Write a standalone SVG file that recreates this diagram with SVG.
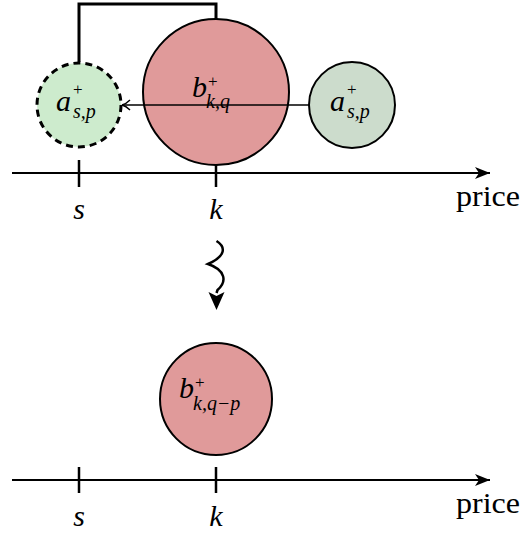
<svg xmlns="http://www.w3.org/2000/svg" width="522" height="533" viewBox="0 0 522 533">
<defs>
<marker id="ax" markerUnits="userSpaceOnUse" markerWidth="18" markerHeight="14" refX="16" refY="7" orient="auto">
<path d="M1,1 L16,7 L1,13 L5,7 Z" fill="#000"/>
</marker>
<marker id="op" markerUnits="userSpaceOnUse" markerWidth="12" markerHeight="14" refX="10" refY="7" orient="auto">
<path d="M2,2 Q6,6 10,7 Q6,8 2,12" fill="none" stroke="#000" stroke-width="1.4"/>
</marker>
</defs>
<style>
.m{font-family:"Liberation Serif","DejaVu Serif",serif;font-style:italic;fill:#000}
.r{font-family:"Liberation Serif","DejaVu Serif",serif;font-style:normal;fill:#000}
.axis{stroke:#000;stroke-width:2;fill:none}
.tick{stroke:#000;stroke-width:2.5}
.node{stroke:#000;stroke-width:2}
</style>
<rect width="522" height="533" fill="#fff"/>
<g id="connectors">
<line class="axis" x1="12" y1="173" x2="490" y2="173" marker-end="url(#ax)"/>
<line class="tick" x1="79" y1="160" x2="79" y2="187"/>
<line class="tick" x1="216" y1="160" x2="216" y2="187"/>
<path d="M79,62 V4 H216 V20" fill="none" stroke="#000" stroke-width="3"/>
<path d="M216.5,241 C226,247 226,256 208,264 C226,270 227,282 217.5,290 L216.5,293" fill="none" stroke="#000" stroke-width="2.5"/>
<path d="M216.5,310 L208.5,292 L216.5,296 L224.5,292 Z" fill="#000"/>
<line class="axis" x1="12" y1="480" x2="490" y2="480" marker-end="url(#ax)"/>
<line class="tick" x1="79" y1="467" x2="79" y2="493"/>
<line class="tick" x1="216" y1="467" x2="216" y2="493"/>
</g>
<g id="node-a-dashed">
<circle cx="79" cy="105" r="42" fill="#cdebcd" stroke="#000" stroke-width="3" stroke-dasharray="7,5"/>
<text class="m" x="56" y="111" font-size="30">a</text>
<text class="r" x="73" y="95" font-size="17">+</text>
<text class="m" x="73" y="118" font-size="20">s,p</text>
</g>
<g id="node-b">
<circle class="node" cx="216" cy="92" r="73" fill="#e09a9a"/>
<text class="m" x="192" y="97" font-size="30">b</text>
<text class="r" x="208" y="87" font-size="17">+</text>
<text class="m" x="206" y="108" font-size="20">k,q</text>
</g>
<g id="node-a-right">
<circle class="node" cx="352" cy="105" r="43" fill="#ccdccc"/>
<text class="m" x="330" y="111" font-size="30">a</text>
<text class="r" x="347" y="95" font-size="17">+</text>
<text class="m" x="347" y="118" font-size="20">s,p</text>
</g>
<g id="arrow-link">
<line x1="309" y1="105" x2="122" y2="105" stroke="#000" stroke-width="1.4" marker-end="url(#op)"/>
</g>
<g id="labels-top">
<text class="m" x="79" y="219" font-size="30" text-anchor="middle">s</text>
<text class="m" x="216" y="219" font-size="30" text-anchor="middle">k</text>
<text class="r" x="456" y="206" font-size="29" textLength="64" lengthAdjust="spacingAndGlyphs">price</text>
</g>
<g id="node-b-bottom">
<circle class="node" cx="216" cy="399" r="56" fill="#e09a9a"/>
<text class="m" x="179" y="398" font-size="30">b</text>
<text class="r" x="195" y="388" font-size="17">+</text>
<text class="m" x="193" y="410" font-size="20">k,q−p</text>
</g>
<g id="labels-bottom">
<text class="m" x="79" y="526" font-size="30" text-anchor="middle">s</text>
<text class="m" x="216" y="526" font-size="30" text-anchor="middle">k</text>
<text class="r" x="456" y="513" font-size="29" textLength="64" lengthAdjust="spacingAndGlyphs">price</text>
</g>
</svg>
